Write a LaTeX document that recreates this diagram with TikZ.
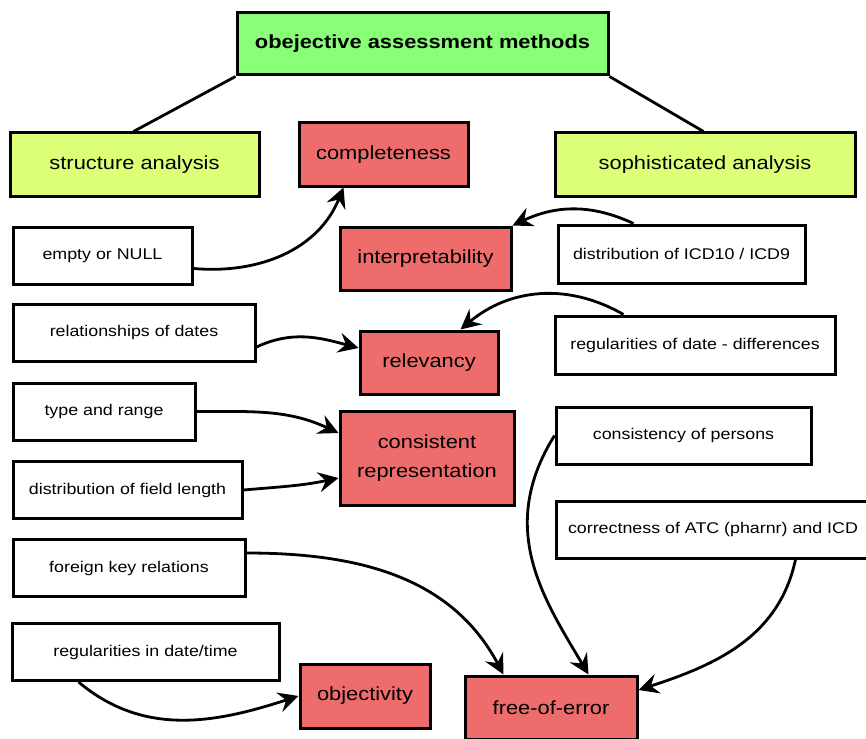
\documentclass[tikz,border=0pt]{standalone}
\usepackage{fontspec}
\setmainfont{Liberation Sans}[FakeStretch=1.15]
\usetikzlibrary{calc,arrows.meta}
\definecolor{topgreen}{RGB}{136,255,119}
\definecolor{catgreen}{RGB}{221,255,119}
\definecolor{dimred}{RGB}{238,108,108}
\tikzset{
  boxbase/.style={draw=black, line width=3pt, inner sep=0pt, align=center},
  topbox/.style={boxbase, fill=topgreen, font=\fontsize{19}{22}\selectfont\bfseries},
  catbox/.style={boxbase, fill=catgreen, font=\fontsize{19}{22}\selectfont, minimum height=63pt},
  dimbox/.style={boxbase, fill=dimred, font=\fontsize{19}{29}\selectfont},
  wbox/.style={boxbase, fill=white, font=\fontsize{15.5}{18}\selectfont, minimum height=57pt},
  link/.style={line width=2.8pt},
  arr/.style={line width=2.8pt, -{Stealth[length=20pt,width=20pt,inset=7pt]}}
}
\begin{document}
\begin{tikzpicture}[x=1pt,y=-1pt]
\useasboundingbox (0,0) rectangle (866,738);
\clip (0,0) rectangle (866,738);
\fill[white] (0,0) rectangle (866,738);

% header and categories
\node[topbox, minimum width=371pt, minimum height=62pt] (top) at (422.5,44) {obejective assessment methods};
\node[catbox, minimum width=249pt] (struct) at (134.5,164.5) {structure analysis};
\node[catbox, minimum width=300pt] (soph) at (705,164.5) {sophisticated analysis};

% dimensions
\node[dimbox, minimum width=169pt, minimum height=63pt] (comp) at (383.5,154.5) {completeness};
\node[dimbox, minimum width=171pt, minimum height=63pt] (interp) at (425.5,258.5) {interpretability};
\node[dimbox, minimum width=138pt, minimum height=63pt] (relev) at (429,362.5) {relevancy};
\node[dimbox, minimum width=174pt, minimum height=94pt] (consrep) at (427,458) {consistent\\representation};
\node[dimbox, minimum width=130pt, minimum height=64pt] (objec) at (365,696) {objectivity};
\node[dimbox, minimum width=172pt, minimum height=63pt] (free) at (551,707.5) {free-of-error};

% methods
\node[wbox, minimum width=179pt] (empty) at (102.5,255.5) {empty or NULL};
\node[wbox, minimum width=242pt] (reldates) at (134,332.5) {relationships of dates};
\node[wbox, minimum width=182pt] (typerange) at (104,411.5) {type and range};
\node[wbox, minimum width=229pt] (fieldlen) at (127.5,490) {distribution of field length};
\node[wbox, minimum width=232pt] (foreign) at (129,568) {foreign key relations};
\node[wbox, minimum width=267pt] (regtime) at (145.5,652) {regularities in date/time};
\node[wbox, minimum width=247pt, minimum height=58pt] (icd) at (681.5,254) {distribution of ICD10 / ICD9};
\node[wbox, minimum width=280pt, minimum height=58pt] (regdiff) at (695,345) {regularities of date - differences};
\node[wbox, minimum width=255pt] (persons) at (683.5,435.5) {consistency of persons};
\node[wbox, minimum width=314pt] (correct) at (713,529.5) {correctness of ATC (pharnr) and ICD};

% hierarchy lines
\draw[link] (top.south west) -- ($(struct.north west)+(125,0)$);
\draw[link] (top.south east) -- ($(soph.north west)+(150,0)$);

% arrows
\draw[arr] ($(empty.east)+(0,13)$) to[out=-5,in=-112] ($(comp.south west)+(46,0)$);
\draw[arr] ($(icd.north west)+(77,0)$) to[out=155,in=25] (interp.north east);
\draw[arr] ($(regdiff.north west)+(70,0)$) to[out=150,in=40] ($(relev.north west)+(102,0)$);
\draw[arr] ($(reldates.east)+(0,14.5)$) to[out=25,in=165] ($(relev.west)+(0,-14.5)$);
\draw[arr] (typerange.east) to[out=0,in=155] ($(consrep.west)+(0,-25)$);
\draw[arr] (fieldlen.east) to[out=5,in=-168] ($(consrep.west)+(0,20)$);
\draw[arr] ($(foreign.east)+(0,-15)$) to[out=0,in=118] ($(free.north west)+(40,0)$);
\draw[arr] (persons.west) .. controls ($(persons.west)+(-58,93)$) and ($(free.north west)+(80,-76)$) .. ($(free.north west)+(125,0)$);
\draw[arr] ($(correct.south west)+(241,0)$) to[out=-102,in=18] ($(free.east)+(0,-17.5)$);
\draw[arr] ($(regtime.south west)+(68,0)$) to[out=-40,in=198] (objec.west);
\end{tikzpicture}
\end{document}
